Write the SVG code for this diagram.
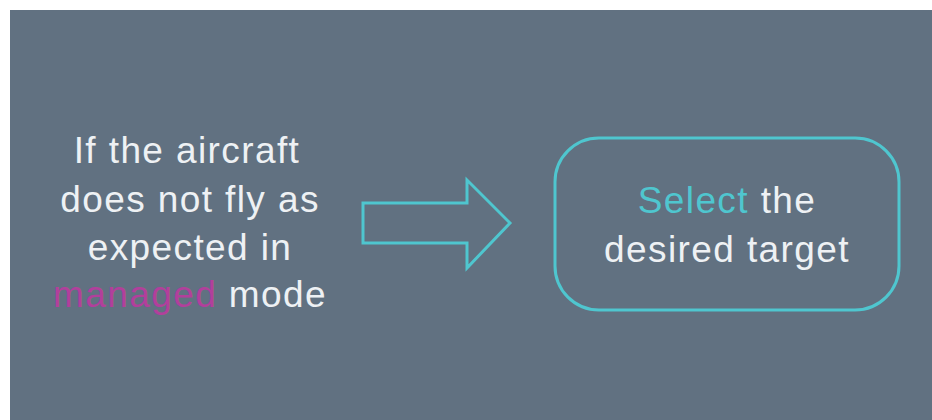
<svg xmlns="http://www.w3.org/2000/svg" width="932" height="420" viewBox="0 0 932 420">
  <style>
    .label { font-family: "Liberation Sans", Arial, sans-serif; font-size: 37px; letter-spacing: 1.4px; fill: #eef1f4; text-anchor: middle; }
    .accent { fill: #4fc6cf; }
    .mode { fill: #b23f9c; }
    .outline { fill: none; stroke: #4fc6cf; stroke-width: 3; stroke-linejoin: miter; }
  </style>

  <!-- page and panel -->
  <rect x="0" y="0" width="932" height="420" fill="#ffffff"/>
  <rect x="10" y="10" width="922" height="410" fill="#617181"/>

  <!-- condition text -->
  <g id="condition">
    <text class="label" x="187" y="163">If the aircraft</text>
    <text class="label" x="190" y="212">does not fly as</text>
    <text class="label" x="190" y="260">expected in</text>
    <text class="label" x="190" y="307"><tspan class="mode">managed</tspan> mode</text>
  </g>

  <!-- connector -->
  <g id="connectors">
    <polygon class="outline" points="363,203 467,203 467,180 510,223 467,268 467,243 363,243"/>
  </g>

  <!-- action box -->
  <g id="action">
    <rect class="outline" x="555" y="138" width="344" height="172" rx="44" ry="44"/>
    <text class="label" x="727" y="213"><tspan class="accent">Select</tspan> the</text>
    <text class="label" x="727" y="262">desired target</text>
  </g>
</svg>
